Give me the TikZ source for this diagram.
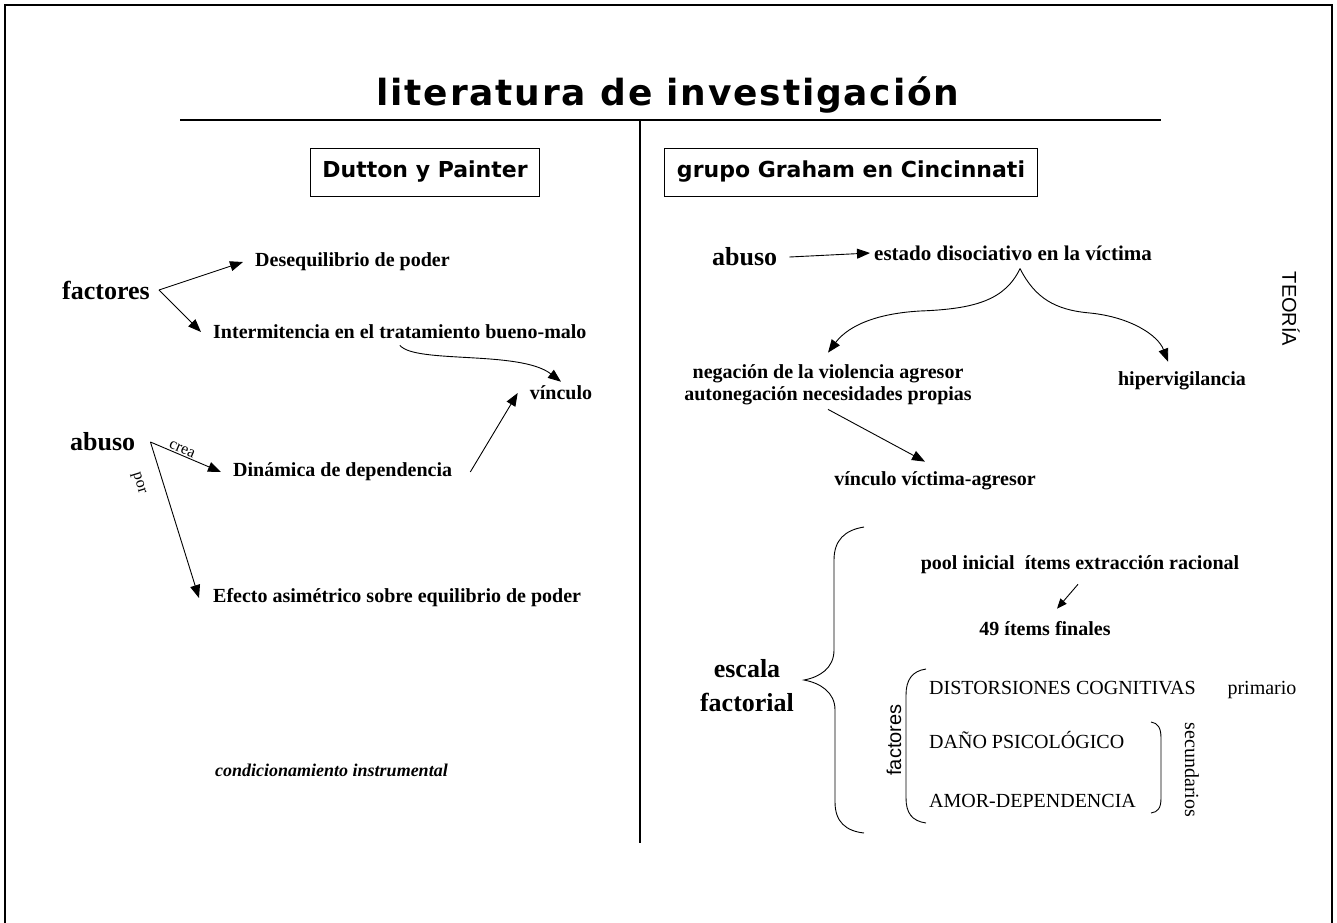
\documentclass[tikz,border=0pt]{standalone}
\usepackage{fontspec}
\setmainfont{Liberation Serif}
\newfontfamily\headfont{DejaVu Sans}
\newfontfamily\titlefont[LetterSpace=5]{DejaVu Sans}
\newfontfamily\arialfont{Liberation Sans}
\usetikzlibrary{arrows.meta,calc}
\tikzset{
    titletext/.style = {font=\titlefont\bfseries\fontsize{36}{40}\selectfont, inner sep=0pt},
    boxtext/.style = {draw, line width=1pt, font=\headfont\bfseries\fontsize{22}{26}\selectfont, inner xsep=12pt, minimum height=48pt},
    bodytext/.style = {font=\bfseries\fontsize{20}{22}\selectfont, inner sep=0pt},
    bigtext/.style = {font=\bfseries\fontsize{26}{34}\selectfont, inner sep=0pt},
    plaintext/.style = {font=\fontsize{20}{21}\selectfont, inner sep=0pt},
    sidetext/.style = {font=\arialfont\fontsize{20}{22}\selectfont, inner sep=0pt},
    smalltext/.style = {font=\fontsize{16}{18}\selectfont, inner sep=1pt},
    arrowline/.style = {-{Triangle[length=13pt,width=10pt]}, line width=0.9pt},
    smallarrow/.style = {-{Triangle[length=10pt,width=8pt]}, line width=0.9pt}
}

\begin{document}
\begin{tikzpicture}[x=1pt,y=-1pt]
                \useasboundingbox (0,0) rectangle (1337,922);

                % frame
                \draw[line width=2pt] (5,940) -- (5,5) -- (1332,5) -- (1332,940);

                % title and rules
                \node[titletext, anchor=base] (title) at (668,105) {literatura de investigación};
                \draw[line width=1.2pt] (180,120) -- (1161,120);
                \draw[line width=1.2pt] (640,120) -- (640,843);

                \node[boxtext] (dutton) at (425,172) {Dutton y Painter};
                \node[boxtext] (graham) at (851,172) {grupo Graham en Cincinnati};

                %% left column
                \node[bigtext, anchor=west] (factL) at (62,290) {factores};
                \node[bodytext, anchor=west] (deseq) at (255,262) {Desequilibrio de poder};
                \node[bodytext, anchor=west] (interm) at (213,332) {Intermitencia en el tratamiento bueno-malo};
                \node[bodytext] (vinc) at (561,393) {vínculo};
                \node[bigtext, anchor=west] (abusoL) at (70,442) {abuso};
                \node[bodytext, anchor=west] (dinam) at (233,472) {Dinámica de dependencia};
                \node[bodytext, anchor=west] (efecto) at (213,598) {Efecto asimétrico sobre equilibrio de poder};
                \node[bodytext, anchor=west, font=\bfseries\itshape\fontsize{18}{20}\selectfont] (condic) at (215,770) {condicionamiento instrumental};

                \draw[arrowline] ([xshift=9pt]factL.east) -- ([xshift=-12pt]deseq.west);
                \draw[arrowline] ([xshift=9pt]factL.east) -- ([xshift=-12pt]interm.west);
                \draw[arrowline] ([yshift=-6pt]interm.south) .. controls (415,364) and (520,350) .. ([yshift=4pt]vinc.north);
                \draw[arrowline] ([xshift=18pt]dinam.east) -- ([xshift=-12pt]vinc.west);
                \draw[arrowline] ([xshift=15pt]abusoL.east) -- node[smalltext, sloped, above, pos=0.42] {crea} ([xshift=-12pt]dinam.west);
                \draw[arrowline] ([xshift=15pt]abusoL.east) -- node[smalltext, sloped, below=17pt, pos=0.22] {por} ([xshift=-14pt]efecto.west);

                %% right column
                \node[bigtext, anchor=west] (abusoR) at (712,257) {abuso};
                \node[bodytext, anchor=west, font=\bfseries\fontsize{21}{22}\selectfont] (estado) at (874,253) {estado disociativo en la víctima};
                \node[bodytext, align=center] (neg) at (828,385) {negación de la violencia agresor\\autonegación necesidades propias};
                \node[bodytext] (hiper) at (1182,381) {hipervigilancia};
                \node[bodytext] (vvict) at (935,481) {vínculo víctima-agresor};
                \node[sidetext, rotate=-90] (teoria) at (1291,309) {TEORÍA};
                \coordinate (peak) at ([xshift=7pt,yshift=-8pt]estado.south);

                \draw[arrowline] ([xshift=12pt]abusoR.east) -- ([xshift=-4pt]estado.west);
                \draw[arrowline] (peak) .. controls (1005,300) and (975,309) .. (920,311) .. controls (868,314) and (845,330) .. ([yshift=12pt]neg.north);
                \draw[arrowline] (peak) .. controls (1035,298) and (1055,310) .. (1090,313) .. controls (1130,317) and (1158,335) .. ([xshift=-14pt,yshift=10pt]hiper.north);
                \draw[arrowline] ([yshift=-4pt]neg.south) -- ([xshift=-10pt,yshift=10pt]vvict.north);

                % escala factorial
                \node[bigtext, align=center] (escala) at (747,686) {escala\\factorial};
                \draw[line width=0.9pt] (864,527) .. controls (845,530) and (834,540) .. (834,560) -- (834,650)
                    .. controls (834,668) and (820,677) .. (804,680) .. controls (820,683) and (835,692) .. (835,710)
                    -- (835,802) .. controls (835,822) and (846,831) .. (864,833);

                \node[bodytext] (pool) at (1080,565) {pool inicial\ \ ítems extracción racional};
                \node[bodytext] (items) at (1045,629) {49 ítems finales};
                \draw[smallarrow] ([xshift=-2pt,yshift=-10pt]pool.south) -- ([xshift=12pt,yshift=13pt]items.north);

                \node[sidetext, rotate=90] (factV) at (894,740) {factores};
                \draw[line width=0.9pt] (926,669) .. controls (912,671) and (906,680) .. (906,695) -- (906,798)
                    .. controls (906,813) and (912,821) .. (926,823);
                \node[plaintext, anchor=west] (dist) at (929,688) {DISTORSIONES COGNITIVAS};
                \node[plaintext] (prim) at (1262,690) {primario};
                \node[plaintext, anchor=west] (dano) at (929,740) {DAÑO PSICOLÓGICO};
                \node[plaintext, anchor=west] (amor) at (929,801) {AMOR-DEPENDENCIA};
                \draw[line width=0.9pt] (1151,722) .. controls (1158,723) and (1161,728) .. (1161,738) -- (1161,798)
                    .. controls (1161,808) and (1158,812) .. (1151,813);
                \node[plaintext, rotate=-90] (secund) at (1192,770) {secundarios};

\end{tikzpicture}
\end{document}
